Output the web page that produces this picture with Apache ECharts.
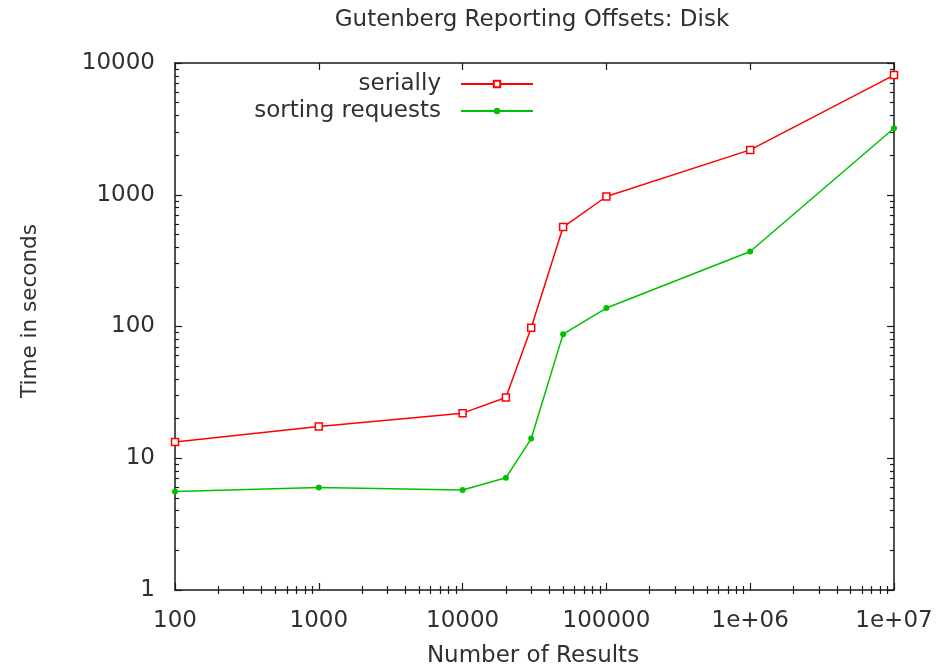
<!DOCTYPE html>
<html>
<head>
<meta charset="utf-8">
<script src="https://cdn.jsdelivr.net/npm/echarts@6/dist/echarts.min.js"></script>
<style>
  html, body { margin: 0; padding: 0; background: #fff; }
  #chart { width: 948px; height: 668px; }
</style>
</head>
<body>
<div id="chart"></div>
<script>
// Result counts (x) and elapsed times in seconds (y) for each strategy
const resultCounts = [100, 1000, 10000, 20000, 30000, 50000, 100000, 1000000, 10000000];
const seriallyTimes = [13.3, 17.4, 22.0, 28.9, 98, 569, 970, 2190, 8100];
const sortingTimes = [5.6, 6.0, 5.75, 7.1, 14.1, 87.5, 138, 371, 3200];

// Axis tick values and their printed labels
const xTickValues = [100, 1000, 10000, 100000, 1000000, 10000000];
const xTickLabels = ['100', '1000', '10000', '100000', '1e+06', '1e+07'];
const yTickValues = [1, 10, 100, 1000, 10000];
const yTickLabels = ['1', '10', '100', '1000', '10000'];

// Minor ticks at 2..9 within each decade
function minorTicks(lo, hi) {
  const out = [];
  for (let d = lo; d < hi; d *= 10) {
    for (let k = 2; k <= 9; k++) out.push(d * k);
  }
  return out;
}
const xMinor = minorTicks(100, 10000000);
const yMinor = minorTicks(1, 10000);

const FONT = 'DejaVu Sans';
const INK = '#1a1a1a';
const TEXT = '#303030';
const RED = '#ff0000';
const GREEN = '#00c000';

function labelFor(values, labels) {
  return function (v) {
    for (let i = 0; i < values.length; i++) {
      if (Math.abs(Math.log10(v) - Math.log10(values[i])) < 1e-6) return labels[i];
    }
    return '';
  };
}

const chart = echarts.init(document.getElementById('chart'), null, { renderer: 'canvas' });

const borderLine = { show: true, onZero: false, lineStyle: { color: INK, width: 1.5 } };
const majorTick = { show: true, inside: true, length: 7, lineStyle: { color: INK, width: 1.2 } };
const minorTick = { show: true, inside: true, length: 4, lineStyle: { color: INK, width: 1.2 } };

function logAxis(pos, min, max, split, labelFmt, showLabel) {
  return {
    type: 'log', logBase: 10, position: pos, min: min, max: max, splitNumber: split,
    axisLine: borderLine,
    axisTick: majorTick,
    splitLine: { show: false },
    axisLabel: showLabel ? {
      show: true, margin: 20, color: TEXT, fontFamily: FONT, fontSize: 23,
      formatter: labelFmt
    } : { show: false }
  };
}
// Overlay axes carrying the 2..9 minor ticks, placed in decade units
function minorAxis(pos, lo, hi, values) {
  return {
    type: 'value', position: pos, min: Math.log10(lo), max: Math.log10(hi),
    axisLine: { show: false },
    axisLabel: { show: false },
    splitLine: { show: false },
    axisTick: Object.assign({}, minorTick, { customValues: values.map(Math.log10) })
  };
}

const option = {
  backgroundColor: '#fff',
  animation: false,
  title: {
    text: 'Gutenberg Reporting Offsets: Disk',
    left: 532, top: 9, textAlign: 'center', padding: 0,
    textStyle: { fontFamily: FONT, fontSize: 23, fontWeight: 'normal', color: TEXT }
  },
  grid: { left: 175, right: 54, top: 63, bottom: 78, containLabel: false },
  legend: {
    orient: 'vertical', align: 'right', right: 414, top: 72, padding: 0,
    itemGap: 3, itemWidth: 72, itemHeight: 8,
    textStyle: { fontFamily: FONT, fontSize: 23, color: TEXT, lineHeight: 24, padding: [0, 15, 0, 0] },
    data: ['serially', 'sorting requests']
  },
  xAxis: [
    logAxis('bottom', 100, 10000000, 5, labelFor(xTickValues, xTickLabels), true),
    logAxis('top', 100, 10000000, 5, null, false),
    minorAxis('bottom', 100, 10000000, xMinor),
    minorAxis('top', 100, 10000000, xMinor)
  ],
  yAxis: [
    logAxis('left', 1, 10000, 4, labelFor(yTickValues, yTickLabels), true),
    logAxis('right', 1, 10000, 4, null, false),
    minorAxis('left', 1, 10000, yMinor),
    minorAxis('right', 1, 10000, yMinor)
  ],
  series: [
    {
      name: 'serially', type: 'line', xAxisIndex: 0, yAxisIndex: 0,
      data: resultCounts.map((x, i) => [x, seriallyTimes[i]]),
      symbol: 'rect', symbolSize: 7, showAllSymbol: true,
      lineStyle: { color: RED, width: 1.5 },
      itemStyle: { color: '#fff', borderColor: RED, borderWidth: 1.5 },
      z: 3
    },
    {
      name: 'sorting requests', type: 'line', xAxisIndex: 0, yAxisIndex: 0,
      data: resultCounts.map((x, i) => [x, sortingTimes[i]]),
      symbol: 'circle', symbolSize: 6, showAllSymbol: true,
      lineStyle: { color: GREEN, width: 1.5 },
      itemStyle: { color: GREEN, borderColor: GREEN, borderWidth: 0 },
      z: 3
    }
  ],
  graphic: [
    {
      type: 'text', x: 30, y: 311, rotation: Math.PI / 2,
      style: { text: 'Time in seconds', fontFamily: FONT, fontSize: 21.5, fill: TEXT,
               textAlign: 'center', textVerticalAlign: 'middle' }
    },
    {
      type: 'text', x: 533, y: 656,
      style: { text: 'Number of Results', fontFamily: FONT, fontSize: 23, fill: TEXT,
               textAlign: 'center', textVerticalAlign: 'middle' }
    }
  ]
};

chart.setOption(option);
</script>
</body>
</html>
